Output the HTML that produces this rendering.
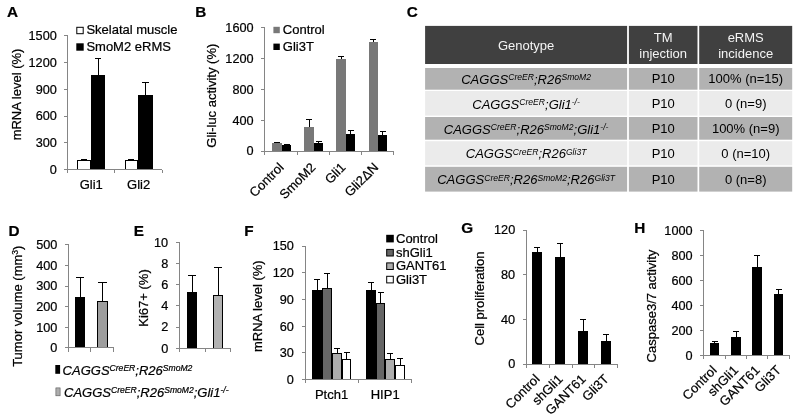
<!DOCTYPE html>
<html lang="en">
<head>
<meta charset="utf-8">
<title>Figure</title>
<style>
html, body { margin: 0; padding: 0; background: #fff; }
body { width: 800px; height: 418px; overflow: hidden; }
svg { display: block; }
svg text { font-family: "Liberation Sans", sans-serif; stroke: #000; stroke-width: 0.22px; }
svg text.w { stroke: #fff; }
svg .tb text { stroke: none; }
</style>
</head>
<body>
<svg width="800" height="418" viewBox="0 0 800 418">
<rect x="0" y="0" width="800" height="418" fill="#fff"/>
<text x="7.1" y="16.6" font-size="15.3" font-weight="bold">A</text>
<line x1="84.5" y1="160" x2="84.5" y2="160" stroke="#000" stroke-width="1"/>
<line x1="81" y1="159.5" x2="87" y2="159.5" stroke="#000" stroke-width="1"/>
<rect x="77.5" y="160.5" width="13" height="9" fill="#fff" stroke="#000" stroke-width="1"/>
<line x1="98.5" y1="58" x2="98.5" y2="75" stroke="#000" stroke-width="1"/>
<line x1="95" y1="58.5" x2="101" y2="58.5" stroke="#000" stroke-width="1"/>
<rect x="91" y="75" width="14" height="94.5" fill="#000"/>
<line x1="131.5" y1="159" x2="131.5" y2="160" stroke="#000" stroke-width="1"/>
<line x1="128" y1="159.5" x2="134" y2="159.5" stroke="#000" stroke-width="1"/>
<rect x="125.5" y="160.5" width="12" height="9" fill="#fff" stroke="#000" stroke-width="1"/>
<line x1="145.5" y1="82" x2="145.5" y2="95" stroke="#000" stroke-width="1"/>
<line x1="142" y1="82.5" x2="149" y2="82.5" stroke="#000" stroke-width="1"/>
<rect x="138" y="95" width="15" height="74.5" fill="#000"/>
<line x1="67.5" y1="35" x2="67.5" y2="170" stroke="#858585" stroke-width="1"/>
<line x1="64" y1="35.5" x2="68" y2="35.5" stroke="#858585" stroke-width="1"/>
<text x="56.8" y="40" font-size="12.7" text-anchor="end">1500</text>
<line x1="64" y1="62.5" x2="68" y2="62.5" stroke="#858585" stroke-width="1"/>
<text x="56.8" y="66.8" font-size="12.7" text-anchor="end">1200</text>
<line x1="64" y1="89.5" x2="68" y2="89.5" stroke="#858585" stroke-width="1"/>
<text x="56.8" y="93.6" font-size="12.7" text-anchor="end">900</text>
<line x1="64" y1="116.5" x2="68" y2="116.5" stroke="#858585" stroke-width="1"/>
<text x="56.8" y="120.4" font-size="12.7" text-anchor="end">600</text>
<line x1="64" y1="142.5" x2="68" y2="142.5" stroke="#858585" stroke-width="1"/>
<text x="56.8" y="147.2" font-size="12.7" text-anchor="end">300</text>
<line x1="64" y1="169.5" x2="68" y2="169.5" stroke="#858585" stroke-width="1"/>
<text x="56.8" y="174" font-size="12.7" text-anchor="end">0</text>
<line x1="67" y1="169.5" x2="162" y2="169.5" stroke="#858585" stroke-width="1"/>
<line x1="67.5" y1="170" x2="67.5" y2="173" stroke="#858585" stroke-width="1"/>
<line x1="114.5" y1="170" x2="114.5" y2="173" stroke="#858585" stroke-width="1"/>
<line x1="162.5" y1="170" x2="162.5" y2="173" stroke="#858585" stroke-width="1"/>
<text x="21.4" y="94.5" font-size="13" text-anchor="middle" transform="rotate(-90 21.4 94.5)">mRNA level (%)</text>
<text x="91.3" y="188.8" font-size="13" text-anchor="middle">Gli1</text>
<text x="138.6" y="188.8" font-size="13" text-anchor="middle">Gli2</text>
<rect x="76.8" y="27.3" width="6.4" height="6.4" fill="#fff" stroke="#000" stroke-width="1"/>
<text x="86.4" y="34.3" font-size="13">Skelatal muscle</text>
<rect x="76.3" y="43.3" width="7.4" height="7.4" fill="#000"/>
<text x="86.4" y="50.7" font-size="13">SmoM2 eRMS</text>
<text x="195.3" y="16.6" font-size="15.3" font-weight="bold">B</text>
<line x1="277.5" y1="142" x2="277.5" y2="143" stroke="#000" stroke-width="1"/>
<line x1="274" y1="142.5" x2="280" y2="142.5" stroke="#000" stroke-width="1"/>
<rect x="272" y="143" width="10" height="8.5" fill="#787878"/>
<line x1="286.5" y1="144" x2="286.5" y2="145" stroke="#000" stroke-width="1"/>
<line x1="284" y1="144.5" x2="290" y2="144.5" stroke="#000" stroke-width="1"/>
<rect x="282" y="145" width="9" height="6.5" fill="#000"/>
<line x1="309.5" y1="120" x2="309.5" y2="127" stroke="#000" stroke-width="1"/>
<line x1="306" y1="119.5" x2="312" y2="119.5" stroke="#000" stroke-width="1"/>
<rect x="304" y="127" width="10" height="24.5" fill="#787878"/>
<line x1="318.5" y1="142" x2="318.5" y2="143" stroke="#000" stroke-width="1"/>
<line x1="316" y1="141.5" x2="322" y2="141.5" stroke="#000" stroke-width="1"/>
<rect x="314" y="143" width="9" height="8.5" fill="#000"/>
<line x1="341.5" y1="56" x2="341.5" y2="59" stroke="#000" stroke-width="1"/>
<line x1="338" y1="56.5" x2="344" y2="56.5" stroke="#000" stroke-width="1"/>
<rect x="336" y="59" width="10" height="92.5" fill="#787878"/>
<line x1="350.5" y1="131" x2="350.5" y2="134" stroke="#000" stroke-width="1"/>
<line x1="348" y1="130.5" x2="354" y2="130.5" stroke="#000" stroke-width="1"/>
<rect x="346" y="134" width="9" height="17.5" fill="#000"/>
<line x1="373.5" y1="39" x2="373.5" y2="42" stroke="#000" stroke-width="1"/>
<line x1="370" y1="39.5" x2="376" y2="39.5" stroke="#000" stroke-width="1"/>
<rect x="369" y="42" width="9" height="109.5" fill="#787878"/>
<line x1="382.5" y1="131" x2="382.5" y2="135" stroke="#000" stroke-width="1"/>
<line x1="380" y1="131.5" x2="386" y2="131.5" stroke="#000" stroke-width="1"/>
<rect x="378" y="135" width="9" height="16.5" fill="#000"/>
<line x1="264.5" y1="27" x2="264.5" y2="152" stroke="#858585" stroke-width="1"/>
<line x1="261" y1="27.5" x2="265" y2="27.5" stroke="#858585" stroke-width="1"/>
<text x="253.6" y="32.2" font-size="12.7" text-anchor="end">1600</text>
<line x1="261" y1="58.5" x2="265" y2="58.5" stroke="#858585" stroke-width="1"/>
<text x="253.6" y="63" font-size="12.7" text-anchor="end">1200</text>
<line x1="261" y1="89.5" x2="265" y2="89.5" stroke="#858585" stroke-width="1"/>
<text x="253.6" y="93.8" font-size="12.7" text-anchor="end">800</text>
<line x1="261" y1="120.5" x2="265" y2="120.5" stroke="#858585" stroke-width="1"/>
<text x="253.6" y="124.6" font-size="12.7" text-anchor="end">400</text>
<line x1="261" y1="151.5" x2="265" y2="151.5" stroke="#858585" stroke-width="1"/>
<text x="253.6" y="155.4" font-size="12.7" text-anchor="end">0</text>
<line x1="264" y1="151.5" x2="394" y2="151.5" stroke="#858585" stroke-width="1"/>
<line x1="264.5" y1="151" x2="264.5" y2="155" stroke="#858585" stroke-width="1"/>
<line x1="297.5" y1="151" x2="297.5" y2="155" stroke="#858585" stroke-width="1"/>
<line x1="329.5" y1="151" x2="329.5" y2="155" stroke="#858585" stroke-width="1"/>
<line x1="361.5" y1="151" x2="361.5" y2="155" stroke="#858585" stroke-width="1"/>
<line x1="393.5" y1="151" x2="393.5" y2="155" stroke="#858585" stroke-width="1"/>
<text x="216.2" y="95.7" font-size="13" text-anchor="middle" transform="rotate(-90 216.2 95.7)">Gli-luc activity (%)</text>
<text x="284.5" y="168.2" font-size="13" text-anchor="end" transform="rotate(-45 284.5 168.2)">Control</text>
<text x="316.5" y="168.2" font-size="13" text-anchor="end" transform="rotate(-45 316.5 168.2)">SmoM2</text>
<text x="346.5" y="168.2" font-size="13" text-anchor="end" transform="rotate(-45 346.5 168.2)">Gli1</text>
<text x="379.2" y="168.2" font-size="13" text-anchor="end" transform="rotate(-45 379.2 168.2)">Gli2ΔN</text>
<rect x="273.4" y="26.8" width="6.4" height="6.4" fill="#787878"/>
<text x="282.8" y="34.3" font-size="13">Control</text>
<rect x="273.4" y="43.6" width="6.4" height="6.4" fill="#000"/>
<text x="282.8" y="50.6" font-size="13">Gli3T</text>
<text x="406.8" y="16.6" font-size="15.3" font-weight="bold">C</text>
<g class="tb">
<rect x="425.1" y="25.9" width="202" height="38.1" fill="#404040"/>
<rect x="628.9" y="25.9" width="68.6" height="38.1" fill="#404040"/>
<rect x="699.2" y="25.9" width="93" height="38.1" fill="#404040"/>
<rect x="425.1" y="68" width="202" height="21.7" fill="#b2b2b2"/>
<rect x="628.9" y="68" width="68.6" height="21.7" fill="#b2b2b2"/>
<rect x="699.2" y="68" width="93" height="21.7" fill="#b2b2b2"/>
<rect x="425.1" y="91" width="202" height="24.6" fill="#ebebeb"/>
<rect x="628.9" y="91" width="68.6" height="24.6" fill="#ebebeb"/>
<rect x="699.2" y="91" width="93" height="24.6" fill="#ebebeb"/>
<rect x="425.1" y="117" width="202" height="22.7" fill="#b2b2b2"/>
<rect x="628.9" y="117" width="68.6" height="22.7" fill="#b2b2b2"/>
<rect x="699.2" y="117" width="93" height="22.7" fill="#b2b2b2"/>
<rect x="425.1" y="141.2" width="202" height="24.1" fill="#ebebeb"/>
<rect x="628.9" y="141.2" width="68.6" height="24.1" fill="#ebebeb"/>
<rect x="699.2" y="141.2" width="93" height="24.1" fill="#ebebeb"/>
<rect x="425.1" y="166.8" width="202" height="24.8" fill="#b2b2b2"/>
<rect x="628.9" y="166.8" width="68.6" height="24.8" fill="#b2b2b2"/>
<rect x="699.2" y="166.8" width="93" height="24.8" fill="#b2b2b2"/>
<text x="526.1" y="49.8" font-size="13" text-anchor="middle" fill="#f4f4f4" class="w">Genotype</text>
<text x="663.2" y="42.3" font-size="13" text-anchor="middle" fill="#f4f4f4" class="w">TM</text>
<text x="663.2" y="57.6" font-size="13" text-anchor="middle" fill="#f4f4f4" class="w">injection</text>
<text x="745.7" y="42.3" font-size="13" text-anchor="middle" fill="#f4f4f4" class="w">eRMS</text>
<text x="745.7" y="57.6" font-size="13" text-anchor="middle" fill="#f4f4f4" class="w">incidence</text>
<text x="526.1" y="84.05" font-size="13" font-style="italic" text-anchor="middle"><tspan>CAGGS</tspan><tspan font-size="8.58" dy="-3.9">CreER</tspan><tspan dy="3.9">;R26</tspan><tspan font-size="8.58" dy="-3.9">SmoM2</tspan></text>
<text x="663.2" y="83.45" font-size="13" text-anchor="middle">P10</text>
<text x="745.7" y="83.45" font-size="13" text-anchor="middle">100% (n=15)</text>
<text x="526.1" y="108.5" font-size="13" font-style="italic" text-anchor="middle"><tspan>CAGGS</tspan><tspan font-size="8.58" dy="-3.9">CreER</tspan><tspan dy="3.9">;Gli1</tspan><tspan font-size="8.58" dy="-3.9">-/-</tspan></text>
<text x="663.2" y="107.9" font-size="13" text-anchor="middle">P10</text>
<text x="745.7" y="107.9" font-size="13" text-anchor="middle">0 (n=9)</text>
<text x="526.1" y="133.55" font-size="13" font-style="italic" text-anchor="middle"><tspan>CAGGS</tspan><tspan font-size="8.58" dy="-3.9">CreER</tspan><tspan dy="3.9">;R26</tspan><tspan font-size="8.58" dy="-3.9">SmoM2</tspan><tspan dy="3.9">;Gli1</tspan><tspan font-size="8.58" dy="-3.9">-/-</tspan></text>
<text x="663.2" y="132.95" font-size="13" text-anchor="middle">P10</text>
<text x="745.7" y="132.95" font-size="13" text-anchor="middle">100% (n=9)</text>
<text x="526.1" y="158.45" font-size="13" font-style="italic" text-anchor="middle"><tspan>CAGGS</tspan><tspan font-size="8.58" dy="-3.9">CreER</tspan><tspan dy="3.9">;R26</tspan><tspan font-size="8.58" dy="-3.9">Gli3T</tspan></text>
<text x="663.2" y="157.85" font-size="13" text-anchor="middle">P10</text>
<text x="745.7" y="157.85" font-size="13" text-anchor="middle">0 (n=10)</text>
<text x="526.1" y="184.4" font-size="13" font-style="italic" text-anchor="middle"><tspan>CAGGS</tspan><tspan font-size="8.58" dy="-3.9">CreER</tspan><tspan dy="3.9">;R26</tspan><tspan font-size="8.58" dy="-3.9">SmoM2</tspan><tspan dy="3.9">;R26</tspan><tspan font-size="8.58" dy="-3.9">Gli3T</tspan></text>
<text x="663.2" y="183.8" font-size="13" text-anchor="middle">P10</text>
<text x="745.7" y="183.8" font-size="13" text-anchor="middle">0 (n=8)</text>
</g>
<text x="8.6" y="235.8" font-size="15.3" font-weight="bold">D</text>
<line x1="80.5" y1="277" x2="80.5" y2="297" stroke="#000" stroke-width="1"/>
<line x1="76" y1="277.5" x2="84" y2="277.5" stroke="#000" stroke-width="1"/>
<rect x="75" y="297" width="10" height="50.5" fill="#000"/>
<line x1="102.5" y1="283" x2="102.5" y2="301" stroke="#000" stroke-width="1"/>
<line x1="98" y1="282.5" x2="107" y2="282.5" stroke="#000" stroke-width="1"/>
<rect x="97.5" y="301.5" width="10" height="46" fill="#9e9e9e" stroke="#000" stroke-width="1"/>
<line x1="68.5" y1="244" x2="68.5" y2="348" stroke="#858585" stroke-width="1"/>
<line x1="65" y1="244.5" x2="68" y2="244.5" stroke="#858585" stroke-width="1"/>
<text x="57.4" y="249.3" font-size="12.7" text-anchor="end">500</text>
<line x1="65" y1="265.5" x2="68" y2="265.5" stroke="#858585" stroke-width="1"/>
<text x="57.4" y="269.86" font-size="12.7" text-anchor="end">400</text>
<line x1="65" y1="286.5" x2="68" y2="286.5" stroke="#858585" stroke-width="1"/>
<text x="57.4" y="290.42" font-size="12.7" text-anchor="end">300</text>
<line x1="65" y1="306.5" x2="68" y2="306.5" stroke="#858585" stroke-width="1"/>
<text x="57.4" y="310.98" font-size="12.7" text-anchor="end">200</text>
<line x1="65" y1="327.5" x2="68" y2="327.5" stroke="#858585" stroke-width="1"/>
<text x="57.4" y="331.54" font-size="12.7" text-anchor="end">100</text>
<line x1="65" y1="347.5" x2="68" y2="347.5" stroke="#858585" stroke-width="1"/>
<text x="57.4" y="352.1" font-size="12.7" text-anchor="end">0</text>
<line x1="68" y1="347.5" x2="114" y2="347.5" stroke="#858585" stroke-width="1"/>
<line x1="68.5" y1="348" x2="68.5" y2="352" stroke="#858585" stroke-width="1"/>
<line x1="90.5" y1="348" x2="90.5" y2="352" stroke="#858585" stroke-width="1"/>
<line x1="113.5" y1="348" x2="113.5" y2="352" stroke="#858585" stroke-width="1"/>
<text x="22" y="306.2" font-size="13.0" text-anchor="middle" transform="rotate(-90 22 306.2)">Tumor volume (mm<tspan font-size="8.6" dy="-4.4">3</tspan><tspan dy="4.4">)</tspan></text>
<rect x="55.3" y="365" width="4.8" height="8.8" fill="#000"/>
<text x="62.6" y="374.9" font-size="13" font-style="italic"><tspan>CAGGS</tspan><tspan font-size="8.58" dy="-3.9">CreER</tspan><tspan dy="3.9">;R26</tspan><tspan font-size="8.58" dy="-3.9">SmoM2</tspan></text>
<rect x="55.9" y="387.9" width="4.2" height="7.9" fill="#adadad" stroke="#555" stroke-width="0.6"/>
<text x="64" y="397" font-size="13" font-style="italic"><tspan>CAGGS</tspan><tspan font-size="8.58" dy="-3.9">CreER</tspan><tspan dy="3.9">;R26</tspan><tspan font-size="8.58" dy="-3.9">SmoM2</tspan><tspan dy="3.9">;Gli1</tspan><tspan font-size="8.58" dy="-3.9">-/-</tspan></text>
<text x="133.8" y="235.8" font-size="15.3" font-weight="bold">E</text>
<line x1="192.5" y1="275" x2="192.5" y2="292" stroke="#000" stroke-width="1"/>
<line x1="188" y1="275.5" x2="196" y2="275.5" stroke="#000" stroke-width="1"/>
<rect x="187" y="292" width="10" height="56.5" fill="#000"/>
<line x1="218.5" y1="267" x2="218.5" y2="295" stroke="#000" stroke-width="1"/>
<line x1="214" y1="267.5" x2="222" y2="267.5" stroke="#000" stroke-width="1"/>
<rect x="213.5" y="295.5" width="9" height="53" fill="#b2b2b2" stroke="#000" stroke-width="1"/>
<line x1="179.5" y1="242" x2="179.5" y2="349" stroke="#858585" stroke-width="1"/>
<line x1="176" y1="242.5" x2="180" y2="242.5" stroke="#858585" stroke-width="1"/>
<text x="168.2" y="246.6" font-size="12.7" text-anchor="end">10</text>
<line x1="176" y1="263.5" x2="180" y2="263.5" stroke="#858585" stroke-width="1"/>
<text x="168.2" y="267.82" font-size="12.7" text-anchor="end">8</text>
<line x1="176" y1="284.5" x2="180" y2="284.5" stroke="#858585" stroke-width="1"/>
<text x="168.2" y="289.04" font-size="12.7" text-anchor="end">6</text>
<line x1="176" y1="305.5" x2="180" y2="305.5" stroke="#858585" stroke-width="1"/>
<text x="168.2" y="310.26" font-size="12.7" text-anchor="end">4</text>
<line x1="176" y1="327.5" x2="180" y2="327.5" stroke="#858585" stroke-width="1"/>
<text x="168.2" y="331.48" font-size="12.7" text-anchor="end">2</text>
<line x1="176" y1="348.5" x2="180" y2="348.5" stroke="#858585" stroke-width="1"/>
<text x="168.2" y="352.7" font-size="12.7" text-anchor="end">0</text>
<line x1="179" y1="348.5" x2="231" y2="348.5" stroke="#858585" stroke-width="1"/>
<line x1="179.5" y1="348" x2="179.5" y2="352" stroke="#858585" stroke-width="1"/>
<line x1="205.5" y1="348" x2="205.5" y2="352" stroke="#858585" stroke-width="1"/>
<line x1="230.5" y1="348" x2="230.5" y2="352" stroke="#858585" stroke-width="1"/>
<text x="147.5" y="298" font-size="13" text-anchor="middle" transform="rotate(-90 147.5 298)">Ki67+ (%)</text>
<text x="244.2" y="235.8" font-size="15.3" font-weight="bold">F</text>
<line x1="317.5" y1="280" x2="317.5" y2="290" stroke="#000" stroke-width="1"/>
<line x1="314" y1="279.5" x2="320" y2="279.5" stroke="#000" stroke-width="1"/>
<rect x="312" y="290" width="10" height="89.5" fill="#000"/>
<line x1="327.5" y1="273" x2="327.5" y2="288" stroke="#000" stroke-width="1"/>
<line x1="324" y1="273.5" x2="330" y2="273.5" stroke="#000" stroke-width="1"/>
<rect x="322.5" y="288.5" width="9" height="91" fill="#666666" stroke="#000" stroke-width="1"/>
<line x1="337.5" y1="349" x2="337.5" y2="353" stroke="#000" stroke-width="1"/>
<line x1="334" y1="348.5" x2="340" y2="348.5" stroke="#000" stroke-width="1"/>
<rect x="332.5" y="353.5" width="9" height="26" fill="#adadad" stroke="#000" stroke-width="1"/>
<line x1="346.5" y1="352" x2="346.5" y2="359" stroke="#000" stroke-width="1"/>
<line x1="344" y1="352.5" x2="350" y2="352.5" stroke="#000" stroke-width="1"/>
<rect x="342.5" y="359.5" width="8" height="20" fill="#fff" stroke="#000" stroke-width="1"/>
<line x1="371.5" y1="282" x2="371.5" y2="290" stroke="#000" stroke-width="1"/>
<line x1="368" y1="282.5" x2="374" y2="282.5" stroke="#000" stroke-width="1"/>
<rect x="366" y="290" width="10" height="89.5" fill="#000"/>
<line x1="380.5" y1="293" x2="380.5" y2="303" stroke="#000" stroke-width="1"/>
<line x1="378" y1="292.5" x2="384" y2="292.5" stroke="#000" stroke-width="1"/>
<rect x="376.5" y="303.5" width="8" height="76" fill="#666666" stroke="#000" stroke-width="1"/>
<line x1="390.5" y1="353" x2="390.5" y2="359" stroke="#000" stroke-width="1"/>
<line x1="387" y1="353.5" x2="393" y2="353.5" stroke="#000" stroke-width="1"/>
<rect x="385.5" y="359.5" width="9" height="20" fill="#adadad" stroke="#000" stroke-width="1"/>
<line x1="400.5" y1="358" x2="400.5" y2="365" stroke="#000" stroke-width="1"/>
<line x1="397" y1="358.5" x2="403" y2="358.5" stroke="#000" stroke-width="1"/>
<rect x="395.5" y="365.5" width="9" height="14" fill="#fff" stroke="#000" stroke-width="1"/>
<line x1="305.5" y1="246" x2="305.5" y2="380" stroke="#858585" stroke-width="1"/>
<line x1="302" y1="246.5" x2="305" y2="246.5" stroke="#858585" stroke-width="1"/>
<text x="293.8" y="250.4" font-size="12.7" text-anchor="end">150</text>
<line x1="302" y1="272.5" x2="305" y2="272.5" stroke="#858585" stroke-width="1"/>
<text x="293.8" y="277.12" font-size="12.7" text-anchor="end">120</text>
<line x1="302" y1="299.5" x2="305" y2="299.5" stroke="#858585" stroke-width="1"/>
<text x="293.8" y="303.84" font-size="12.7" text-anchor="end">90</text>
<line x1="302" y1="326.5" x2="305" y2="326.5" stroke="#858585" stroke-width="1"/>
<text x="293.8" y="330.56" font-size="12.7" text-anchor="end">60</text>
<line x1="302" y1="352.5" x2="305" y2="352.5" stroke="#858585" stroke-width="1"/>
<text x="293.8" y="357.28" font-size="12.7" text-anchor="end">30</text>
<line x1="302" y1="379.5" x2="305" y2="379.5" stroke="#858585" stroke-width="1"/>
<text x="293.8" y="384" font-size="12.7" text-anchor="end">0</text>
<line x1="305" y1="379.5" x2="412" y2="379.5" stroke="#858585" stroke-width="1"/>
<line x1="305.5" y1="380" x2="305.5" y2="383" stroke="#858585" stroke-width="1"/>
<line x1="358.5" y1="380" x2="358.5" y2="383" stroke="#858585" stroke-width="1"/>
<line x1="411.5" y1="380" x2="411.5" y2="383" stroke="#858585" stroke-width="1"/>
<text x="262.2" y="306.2" font-size="13" text-anchor="middle" transform="rotate(-90 262.2 306.2)">mRNA level (%)</text>
<text x="331.5" y="399.2" font-size="13" text-anchor="middle">Ptch1</text>
<text x="385.2" y="399.2" font-size="13" text-anchor="middle">HIP1</text>
<rect x="386.2" y="234.8" width="7.6" height="7.6" fill="#000"/>
<text x="396" y="242.8" font-size="13">Control</text>
<rect x="386.7" y="249.4" width="6.6" height="6.6" fill="#666666" stroke="#000" stroke-width="1"/>
<text x="396" y="256.9" font-size="13">shGli1</text>
<rect x="386.7" y="262.9" width="6.6" height="6.6" fill="#adadad" stroke="#000" stroke-width="1"/>
<text x="396" y="270.4" font-size="13">GANT61</text>
<rect x="386.7" y="276.3" width="6.6" height="6.6" fill="#fff" stroke="#000" stroke-width="1"/>
<text x="396" y="283.8" font-size="13">Gli3T</text>
<text x="461.2" y="233.2" font-size="15.3" font-weight="bold">G</text>
<line x1="537.5" y1="248" x2="537.5" y2="252" stroke="#000" stroke-width="1"/>
<line x1="534" y1="247.5" x2="540" y2="247.5" stroke="#000" stroke-width="1"/>
<rect x="532" y="252" width="10" height="112.5" fill="#000"/>
<line x1="560.5" y1="243" x2="560.5" y2="257" stroke="#000" stroke-width="1"/>
<line x1="557" y1="243.5" x2="563" y2="243.5" stroke="#000" stroke-width="1"/>
<rect x="555" y="257" width="10" height="107.5" fill="#000"/>
<line x1="583.5" y1="319" x2="583.5" y2="331" stroke="#000" stroke-width="1"/>
<line x1="580" y1="319.5" x2="586" y2="319.5" stroke="#000" stroke-width="1"/>
<rect x="578" y="331" width="10" height="33.5" fill="#000"/>
<line x1="606.5" y1="335" x2="606.5" y2="341" stroke="#000" stroke-width="1"/>
<line x1="603" y1="334.5" x2="609" y2="334.5" stroke="#000" stroke-width="1"/>
<rect x="601" y="341" width="10" height="23.5" fill="#000"/>
<line x1="526.5" y1="230" x2="526.5" y2="364" stroke="#858585" stroke-width="1"/>
<line x1="523" y1="230.5" x2="526" y2="230.5" stroke="#858585" stroke-width="1"/>
<text x="515.2" y="234.4" font-size="12.7" text-anchor="end">120</text>
<line x1="523" y1="274.5" x2="526" y2="274.5" stroke="#858585" stroke-width="1"/>
<text x="515.2" y="279.07" font-size="12.7" text-anchor="end">80</text>
<line x1="523" y1="319.5" x2="526" y2="319.5" stroke="#858585" stroke-width="1"/>
<text x="515.2" y="323.73" font-size="12.7" text-anchor="end">40</text>
<line x1="523" y1="364.5" x2="526" y2="364.5" stroke="#858585" stroke-width="1"/>
<text x="515.2" y="368.4" font-size="12.7" text-anchor="end">0</text>
<line x1="526" y1="364.5" x2="618" y2="364.5" stroke="#858585" stroke-width="1"/>
<line x1="526.5" y1="364" x2="526.5" y2="368" stroke="#858585" stroke-width="1"/>
<line x1="549.5" y1="364" x2="549.5" y2="368" stroke="#858585" stroke-width="1"/>
<line x1="572.5" y1="364" x2="572.5" y2="368" stroke="#858585" stroke-width="1"/>
<line x1="594.5" y1="364" x2="594.5" y2="368" stroke="#858585" stroke-width="1"/>
<line x1="617.5" y1="364" x2="617.5" y2="368" stroke="#858585" stroke-width="1"/>
<text x="484.2" y="298.5" font-size="13" text-anchor="middle" transform="rotate(-90 484.2 298.5)">Cell proliferation</text>
<text x="540.5" y="379.8" font-size="13" text-anchor="end" transform="rotate(-45 540.5 379.8)">Control</text>
<text x="563.5" y="379.8" font-size="13" text-anchor="end" transform="rotate(-45 563.5 379.8)">shGli1</text>
<text x="586.5" y="379.8" font-size="13" text-anchor="end" transform="rotate(-45 586.5 379.8)">GANT61</text>
<text x="609.5" y="379.8" font-size="13" text-anchor="end" transform="rotate(-45 609.5 379.8)">Gli3T</text>
<text x="634.2" y="233.2" font-size="15.3" font-weight="bold">H</text>
<line x1="714.5" y1="341" x2="714.5" y2="343" stroke="#000" stroke-width="1"/>
<line x1="712" y1="341.5" x2="718" y2="341.5" stroke="#000" stroke-width="1"/>
<rect x="710" y="343" width="9" height="12.5" fill="#000"/>
<line x1="736.5" y1="332" x2="736.5" y2="337" stroke="#000" stroke-width="1"/>
<line x1="733" y1="331.5" x2="739" y2="331.5" stroke="#000" stroke-width="1"/>
<rect x="731" y="337" width="10" height="18.5" fill="#000"/>
<line x1="757.5" y1="255" x2="757.5" y2="267" stroke="#000" stroke-width="1"/>
<line x1="754" y1="255.5" x2="760" y2="255.5" stroke="#000" stroke-width="1"/>
<rect x="752" y="267" width="10" height="88.5" fill="#000"/>
<line x1="778.5" y1="289" x2="778.5" y2="294" stroke="#000" stroke-width="1"/>
<line x1="776" y1="289.5" x2="782" y2="289.5" stroke="#000" stroke-width="1"/>
<rect x="774" y="294" width="9" height="61.5" fill="#000"/>
<line x1="703.5" y1="230" x2="703.5" y2="356" stroke="#858585" stroke-width="1"/>
<line x1="700" y1="230.5" x2="704" y2="230.5" stroke="#858585" stroke-width="1"/>
<text x="692.6" y="234.6" font-size="12.7" text-anchor="end">1000</text>
<line x1="700" y1="255.5" x2="704" y2="255.5" stroke="#858585" stroke-width="1"/>
<text x="692.6" y="259.66" font-size="12.7" text-anchor="end">800</text>
<line x1="700" y1="280.5" x2="704" y2="280.5" stroke="#858585" stroke-width="1"/>
<text x="692.6" y="284.72" font-size="12.7" text-anchor="end">600</text>
<line x1="700" y1="305.5" x2="704" y2="305.5" stroke="#858585" stroke-width="1"/>
<text x="692.6" y="309.78" font-size="12.7" text-anchor="end">400</text>
<line x1="700" y1="330.5" x2="704" y2="330.5" stroke="#858585" stroke-width="1"/>
<text x="692.6" y="334.84" font-size="12.7" text-anchor="end">200</text>
<line x1="700" y1="355.5" x2="704" y2="355.5" stroke="#858585" stroke-width="1"/>
<text x="692.6" y="359.9" font-size="12.7" text-anchor="end">0</text>
<line x1="703" y1="355.5" x2="790" y2="355.5" stroke="#858585" stroke-width="1"/>
<line x1="703.5" y1="356" x2="703.5" y2="359" stroke="#858585" stroke-width="1"/>
<line x1="725.5" y1="356" x2="725.5" y2="359" stroke="#858585" stroke-width="1"/>
<line x1="746.5" y1="356" x2="746.5" y2="359" stroke="#858585" stroke-width="1"/>
<line x1="767.5" y1="356" x2="767.5" y2="359" stroke="#858585" stroke-width="1"/>
<line x1="789.5" y1="356" x2="789.5" y2="359" stroke="#858585" stroke-width="1"/>
<text x="655.6" y="306" font-size="13" text-anchor="middle" transform="rotate(-90 655.6 306)">Caspase3/7 activity</text>
<text x="717.5" y="371" font-size="13" text-anchor="end" transform="rotate(-45 717.5 371)">Control</text>
<text x="739" y="371" font-size="13" text-anchor="end" transform="rotate(-45 739 371)">shGli1</text>
<text x="760.5" y="371" font-size="13" text-anchor="end" transform="rotate(-45 760.5 371)">GANT61</text>
<text x="781.8" y="371" font-size="13" text-anchor="end" transform="rotate(-45 781.8 371)">Gli3T</text>
</svg>
</body>
</html>
